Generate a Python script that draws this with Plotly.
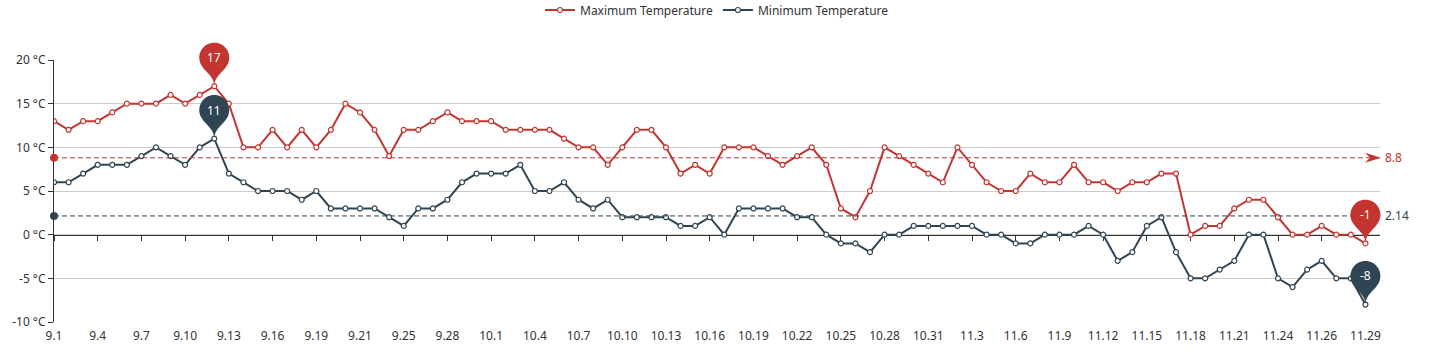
import math
import numpy as np
import plotly.graph_objects as go

# ---------------- data ----------------
dates = [
    "9.1", "9.2", "9.3", "9.4", "9.5", "9.6", "9.7", "9.8", "9.9", "9.10",
    "9.11", "9.12", "9.13", "9.14", "9.15", "9.16", "9.17", "9.18", "9.19", "9.20",
    "9.21", "9.21", "9.23", "9.24", "9.25", "9.26", "9.27", "9.28", "9.29", "9.30",
    "10.1", "10.2", "10.3", "10.4", "10.5", "10.6", "10.7", "10.8", "10.9", "10.10",
    "10.11", "10.12", "10.13", "10.14", "10.15", "10.16", "10.17", "10.18", "10.19", "10.20",
    "10.21", "10.22", "10.23", "10.24", "10.25", "10.26", "10.27", "10.28", "10.29", "10.30",
    "10.31", "11.1", "11.2", "11.3", "11.4", "11.5", "11.6", "11.7", "11.8", "11.9",
    "11.10", "11.11", "11.12", "11.13", "11.14", "11.15", "11.16", "11.17", "11.18", "11.19",
    "11.20", "11.21", "11.22", "11.23", "11.24", "11.25", "11.25", "11.26", "11.27", "11.28",
    "11.29",
]

max_temp = [13, 12, 13, 13, 14, 15, 15, 15, 16, 15,
            16, 17, 15, 10, 10, 12, 10, 12, 10, 12,
            15, 14, 12, 9, 12, 12, 13, 14, 13, 13,
            13, 12, 12, 12, 12, 11, 10, 10, 8, 10,
            12, 12, 10, 7, 8, 7, 10, 10, 10, 9,
            8, 9, 10, 8, 3, 2, 5, 10, 9, 8,
            7, 6, 10, 8, 6, 5, 5, 7, 6, 6,
            8, 6, 6, 5, 6, 6, 7, 7, 0, 1,
            1, 3, 4, 4, 2, 0, 0, 1, 0, 0,
            -1]

min_temp = [6, 6, 7, 8, 8, 8, 9, 10, 9, 8,
            10, 11, 7, 6, 5, 5, 5, 4, 5, 3,
            3, 3, 3, 2, 1, 3, 3, 4, 6, 7,
            7, 7, 8, 5, 5, 6, 4, 3, 4, 2,
            2, 2, 2, 1, 1, 2, 0, 3, 3, 3,
            3, 2, 2, 0, -1, -1, -2, 0, 0, 1,
            1, 1, 1, 1, 0, 0, -1, -1, 0, 0,
            0, 1, 0, -3, -2, 1, 2, -2, -5, -5,
            -4, -3, 0, 0, -5, -6, -4, -3, -5, -5,
            -8]

series_names = ["Maximum Temperature", "Minimum Temperature"]
y_ticks = [-10, -5, 0, 5, 10, 15, 20]
y_tick_labels = [f"{v} °C" for v in y_ticks]

# ---------------- style ----------------
RED = "#c23531"
DARK = "#2f4554"
AXIS = "#333333"
GRID = "#cccccc"
FONT = "Noto Sans"

x_idx = list(range(len(dates)))
tick_idx = x_idx[::3]
tick_txt = [dates[i] for i in tick_idx]
x_range = [0, len(dates)]
y_range = [min(y_ticks), max(y_ticks)]


def px(i):
    return (i - x_range[0]) / (x_range[1] - x_range[0])


def py(v):
    return (v - y_range[0]) / (y_range[1] - y_range[0])


fig = go.Figure()
for name, vals, col, xa in [(series_names[0], max_temp, RED, "x"),
                            (series_names[1], min_temp, DARK, "x2")]:
    fig.add_trace(go.Scatter(
        x=x_idx, y=vals, name=name, mode="lines+markers", xaxis=xa, yaxis="y",
        line=dict(color=col, width=2),
        marker=dict(symbol="circle", size=5, color="white",
                    line=dict(color=col, width=1.2)),
    ))


def pin_path(r=15.0, h=50.0, n=4):
    dy = r * r / (h - r)
    cy = h - r - dy
    ang = math.asin(dy / r)
    dx = math.cos(ang) * r
    th0 = math.pi + ang
    sweep = math.pi + 2 * ang
    d = sweep / n
    k = 4.0 / 3.0 * math.tan(d / 4)
    x0, y0 = r * math.cos(th0), cy + r * math.sin(th0)
    s = f"M{x0:.2f},{y0:.2f}"
    for i in range(n):
        t1 = th0 - i * d
        t2 = t1 - d
        p0 = (r * math.cos(t1), cy + r * math.sin(t1))
        p3 = (r * math.cos(t2), cy + r * math.sin(t2))
        p1 = (p0[0] + k * r * math.sin(t1), p0[1] - k * r * math.cos(t1))
        p2 = (p3[0] - k * r * math.sin(t2), p3[1] + k * r * math.cos(t2))
        s += f" C{p1[0]:.2f},{p1[1]:.2f} {p2[0]:.2f},{p2[1]:.2f} {p3[0]:.2f},{p3[1]:.2f}"
    tx, ty = math.sin(ang), math.cos(ang)
    cp, cp2 = r * 0.6, r * 0.7
    s += f" C{dx - tx * cp:.2f},{cy - dy - ty * cp:.2f} 0,{cp2:.2f} 0,0"
    s += f" C0,{cp2:.2f} {-dx + tx * cp:.2f},{cy - dy - ty * cp:.2f} {-dx:.2f},{cy - dy:.2f} Z"
    return s, cy


PIN, PIN_CY = pin_path()
shapes = []
annotations = []

# average mark lines
for vals, col in [(max_temp, RED), (min_temp, DARK)]:
    avg = float(np.mean(vals))
    shapes.append(dict(type="line", xref="paper", yref="paper", x0=0, x1=1, y0=py(avg), y1=py(avg),
                       line=dict(color=col, width=1, dash="5px,3px"), layer="above"))
    shapes.append(dict(type="circle", xref="paper", yref="paper", xsizemode="pixel", ysizemode="pixel",
                       xanchor=0, yanchor=py(avg), x0=-4, x1=4, y0=-4, y1=4,
                       fillcolor=col, line=dict(width=0), layer="above"))
    shapes.append(dict(type="path", xref="paper", yref="paper", xsizemode="pixel", ysizemode="pixel",
                       xanchor=1, yanchor=py(avg), path="M1,0 L-15,5 L-10,0 L-15,-5 Z",
                       fillcolor=col, line=dict(width=0), layer="above"))
    annotations.append(dict(xref="paper", yref="y", x=1, y=avg, xshift=3, xanchor="left",
                            yanchor="middle", showarrow=False, text=f"{round(avg, 2):g}",
                            font=dict(family=FONT, size=12, color=col)))

# max / min mark points (pins)
for vals, col in [(max_temp, RED), (min_temp, DARK)]:
    for i in (int(np.argmax(vals)), int(np.argmin(vals))):
        shapes.append(dict(type="path", xref="paper", yref="paper", xsizemode="pixel", ysizemode="pixel",
                           xanchor=px(x_idx[i]), yanchor=py(vals[i]), path=PIN,
                           fillcolor=col, line=dict(width=0), layer="above"))
        annotations.append(dict(xref="x", yref="y", x=x_idx[i], y=vals[i], yshift=PIN_CY,
                                showarrow=False, text=str(vals[i]), xanchor="center",
                                yanchor="middle", font=dict(family=FONT, size=12, color="white")))

fig.update_layout(
    width=1447, height=361,
    margin=dict(l=54, r=67, t=60, b=39, autoexpand=False),
    paper_bgcolor="white", plot_bgcolor="white",
    font=dict(family=FONT, size=12, color=AXIS),
    showlegend=True,
    legend=dict(orientation="h", x=0.5, xanchor="center", y=1 + 50 / 262, yanchor="middle",
                font=dict(family=FONT, size=12, color=AXIS), itemwidth=30,
                bgcolor="rgba(0,0,0,0)"),
    xaxis=dict(range=x_range, tickmode="array", tickvals=tick_idx, ticktext=tick_txt,
               showgrid=False, zeroline=False, showline=False, ticks="",
               ticklabelstandoff=5,
               tickfont=dict(family=FONT, size=12, color=AXIS)),
    xaxis2=dict(range=x_range, matches="x", overlaying="x", anchor="free",
                position=py(0),
                tickmode="array", tickvals=tick_idx, showticklabels=False,
                ticks="outside", ticklen=5, tickcolor=AXIS, showline=True, linecolor=AXIS,
                linewidth=1, showgrid=False, zeroline=False, layer="below traces"),
    yaxis=dict(range=y_range, tickmode="array", tickvals=y_ticks, ticktext=y_tick_labels,
               showgrid=True, gridcolor=GRID, gridwidth=1, zeroline=False,
               showline=True, linecolor=AXIS, linewidth=1, ticks="outside", ticklen=5,
               tickcolor=AXIS, tickfont=dict(family=FONT, size=12, color=AXIS)),
    shapes=shapes,
    annotations=annotations,
    hovermode="x",
)

fig.write_html("out.html", config={"displayModeBar": False},
               post_script="document.body.style.margin='0';")
